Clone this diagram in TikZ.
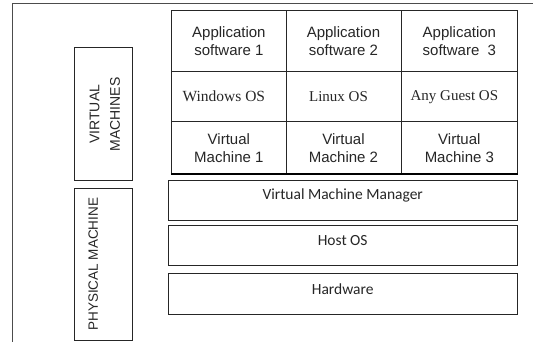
\documentclass[tikz,border=0pt]{standalone}
\usepackage{fontspec}
\setmainfont{Liberation Sans}
\newfontfamily\guestfont{Liberation Serif}
\newfontfamily\layerfont{Carlito}
\begin{document}
\begin{tikzpicture}[x=1pt,y=-1pt,
  line/.style={draw=black!85,line width=0.9pt},
  cell/.style={line,rectangle,inner sep=0pt,align=center,
    font=\fontsize{15}{18}\selectfont,text=black!85},
  ostext/.style={font=\guestfont\fontsize{15}{18}\selectfont,text=black!85,inner sep=0pt},
  layer/.style={line,rectangle,inner sep=0pt,minimum width=348.7pt},
  layertext/.style={font=\layerfont\fontsize{15.5}{18}\selectfont,text=black!85,inner sep=0pt},
  sidebox/.style={line,rectangle,inner sep=0pt,minimum width=58pt},
  sidetext/.style={font=\fontsize{14}{20.5}\selectfont,align=center,rotate=90,text=black!85,inner sep=0pt}
]
\useasboundingbox (0,0) rectangle (533,342);
% outer frame (top and left edges)
\draw[draw=black!70,line width=0.9pt] (533,3.3) -- (12,3.3) -- (12,342);

% guest stack: three columns, three rows
\foreach \c/\x/\w in {1/228.85/114.3,2/343.5/115,3/459.35/116.7}{
  \node[cell,minimum width=\w pt,minimum height=61pt] (app\c) at (\x,41.2) {Application\\software \ifnum\c=3\ \fi\c};
  \node[cell,minimum width=\w pt,minimum height=50pt] (os\c) at (\x,96.7) {};
  \node[cell,minimum width=\w pt,minimum height=52.3pt] (vm\c) at (\x,147.8) {Virtual\\Machine \c};
}
\node[ostext,font=\guestfont\fontsize{15.5}{18}\selectfont] at ([xshift=-5]os1.center) {Windows OS};
\node[ostext] at ([xshift=-5]os2.center) {Linux OS};
\node[ostext] at ([xshift=-5]os3.center) {Any Guest OS};
\draw[draw=black,line width=1.8pt] (vm1.south west) -- (vm3.south east);

% host layers
\node[layer,minimum height=39.7pt] (vmm) at (342.7,200.8) {};
\node[layertext] at ([yshift=5]vmm.center) {Virtual Machine Manager};
\node[layer,minimum height=40.4pt] (host) at (342.7,245.5) {};
\node[layertext] at ([yshift=5]host.center) {Host OS};
\node[layer,minimum height=40.3pt] (hw) at (342.7,293.8) {};
\node[layertext] at ([yshift=5]hw.center) {Hardware};

% side labels
\node[sidebox,minimum height=133.3pt] (vmlabel) at (103.3,114.3) {};
\node[sidetext] at ([xshift=1.5]vmlabel.center) {VIRTUAL\\MACHINES};
\node[sidebox,minimum height=151.3pt] (pmlabel) at (103.3,264.3) {};
\node[sidetext,font=\fontsize{13.5}{18}\selectfont] at ([xshift=-10]pmlabel.center) {PHYSICAL MACHINE};
\end{tikzpicture}
\end{document}
